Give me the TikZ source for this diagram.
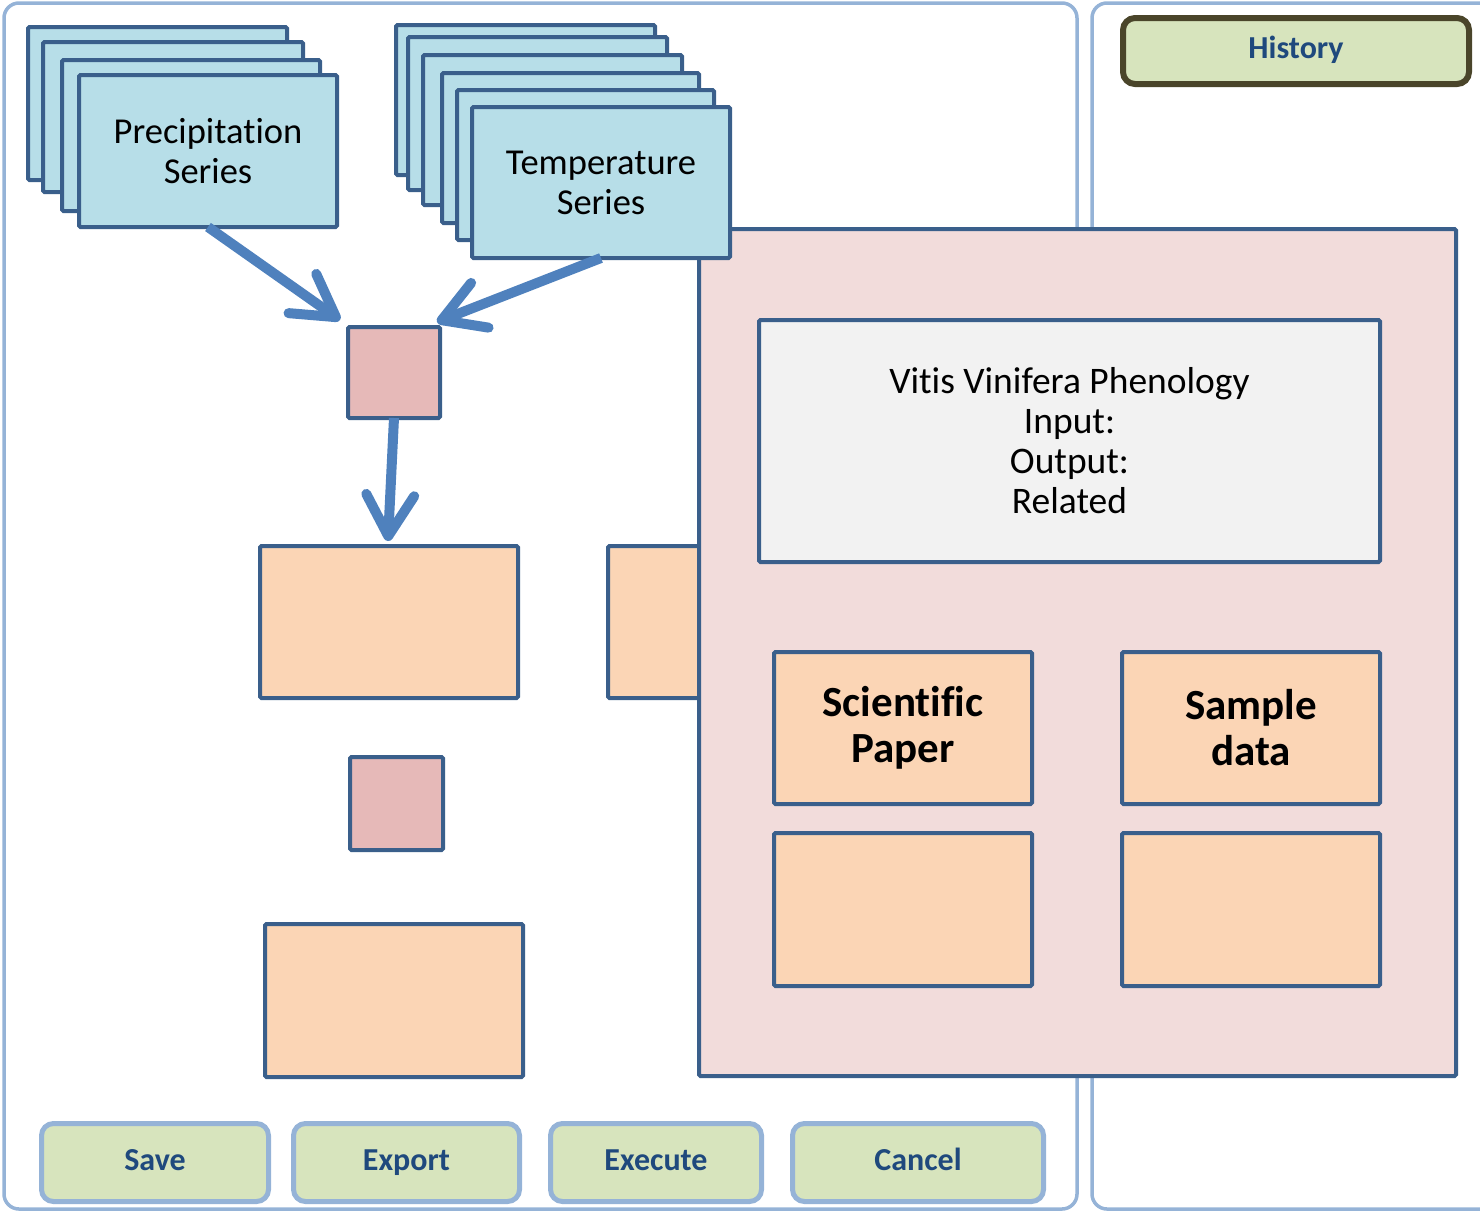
\documentclass[tikz,border=0pt]{standalone}
\usepackage{fontspec}
\setmainfont{Carlito}[Ligatures=NoCommon]
\usetikzlibrary{arrows.meta}

\definecolor{edge}{HTML}{3A5F8B}
\definecolor{series}{HTML}{B7DEE8}
\definecolor{joint}{HTML}{E6B9B8}
\definecolor{slot}{HTML}{FBD5B5}
\definecolor{panel}{HTML}{F2DCDB}
\definecolor{infobg}{HTML}{F2F2F2}
\definecolor{btnbg}{HTML}{D7E4BD}
\definecolor{btnedge}{HTML}{95B3D7}
\definecolor{btntext}{HTML}{1F497D}
\definecolor{histedge}{HTML}{4A452A}
\definecolor{flow}{HTML}{4F81BD}
\definecolor{frame}{HTML}{95B3D7}

\tikzset{
  box/.style={draw=edge, line width=4pt, rounded corners=1.5pt, anchor=north west,
              inner sep=0pt, outer sep=0pt},
  seriesbox/.style={box, fill=series, align=center,
              font=\fontsize{36.5}{40}\selectfont},
  jointbox/.style={box, fill=joint},
  slotbox/.style={box, fill=slot},
  boldslot/.style={box, fill=slot, align=center,
              font=\fontsize{43}{46}\selectfont\bfseries},
  btnlabel/.style={text=btntext, font=\fontsize{32}{36}\selectfont\bfseries,
              text height=15pt, text depth=0pt},
  btn/.style={draw=btnedge, line width=5pt, fill=btnbg, rounded corners=12pt,
              anchor=north west, inner sep=0pt, btnlabel},
  flowarrow/.style={draw=flow, line width=10pt,
              -{Straight Barb[length=41pt,width=48pt,round]}},
  pane/.style={draw=frame, line width=3.5pt, rounded corners=15pt},
}

\begin{document}
\begin{tikzpicture}[x=1pt, y=-1pt]
\path[use as bounding box] (0,0) rectangle (1480,1211);

% window frames
\draw[pane] (4,3) rectangle (1077,1209);
\draw[pane] (1092,3) rectangle (1520,1209);

% partly covered slot behind the detail panel
\node[slotbox, minimum width=130pt, minimum height=152pt] (pb2) at (608,546) {};

% detail panel
\node[box, fill=panel, minimum width=757pt, minimum height=847pt] (detail) at (699,229) {};
\node[box, fill=infobg, align=center, font=\fontsize{37.5}{40}\selectfont,
      minimum width=621pt, minimum height=242pt] (info) at (759,320)
      {Vitis Vinifera Phenology\\Input:\\Output:\\Related};
\node[boldslot, minimum width=258pt, minimum height=152pt] (paper) at (774,652) {Scientific\\Paper};
\node[boldslot, minimum width=258pt, minimum height=152pt] (sample) at (1122,652) {Sample\\data};
\node[slotbox, minimum width=258pt, minimum height=153pt] (slotA) at (774,833) {};
\node[slotbox, minimum width=258pt, minimum height=153pt] (slotB) at (1122,833) {};

% precipitation stack
\node[seriesbox, minimum width=259pt, minimum height=153pt] (p1) at (28,27) {};
\node[seriesbox, minimum width=260pt, minimum height=150pt] (p2) at (43,42) {};
\node[seriesbox, minimum width=258pt, minimum height=151pt] (p3) at (62,60) {};
\node[seriesbox, minimum width=258pt, minimum height=152pt] (prec) at (79,75) {Precipitation\\Series};

% temperature stack
\node[seriesbox, minimum width=259pt, minimum height=150pt] (t1) at (396,25) {};
\node[seriesbox, minimum width=259pt, minimum height=153pt] (t2) at (408,37) {};
\node[seriesbox, minimum width=259pt, minimum height=150pt] (t3) at (423,55) {};
\node[seriesbox, minimum width=257pt, minimum height=150pt] (t4) at (442,73) {};
\node[seriesbox, minimum width=257pt, minimum height=150pt] (t5) at (457,90) {};
\node[seriesbox, minimum width=258pt, minimum height=151pt] (temp) at (472,107) {Temperature\\Series};

% workflow column
\node[jointbox, minimum width=92pt, minimum height=91pt] (j1) at (348,327) {};
\node[slotbox, minimum width=258pt, minimum height=152pt] (pb1) at (260,546) {};
\node[jointbox, minimum width=93pt, minimum height=93pt] (j2) at (350,757) {};
\node[slotbox, minimum width=258pt, minimum height=153pt] (pb3) at (265,924) {};

% connectors (shifts are canvas offsets, positive y points up)
\draw[flowarrow] (prec.south) -- ([xshift=-8pt,yshift=7pt]j1.north west);
\draw[flowarrow] (temp.south) -- ([xshift=-3pt,yshift=5pt]j1.north east);
\draw[flowarrow] (j1.south) -- ([xshift=-1pt,yshift=5pt]pb1.north);

% history button
\node[draw=histedge, line width=6pt, fill=btnbg, rounded corners=12pt,
      anchor=north west, inner sep=0pt, btnlabel,
      minimum width=346pt, minimum height=66pt] (history) at (1120,15) {History};

% command buttons
\node[btn, minimum width=227pt, minimum height=78pt] (save) at (39,1121) {Save};
\node[btn, minimum width=226pt, minimum height=78pt] (export) at (291,1121) {Export};
\node[btn, minimum width=211pt, minimum height=78pt] (execute) at (548,1121) {Execute};
\node[btn, minimum width=251pt, minimum height=78pt] (cancel) at (790,1121) {Cancel};
\end{tikzpicture}
\end{document}
